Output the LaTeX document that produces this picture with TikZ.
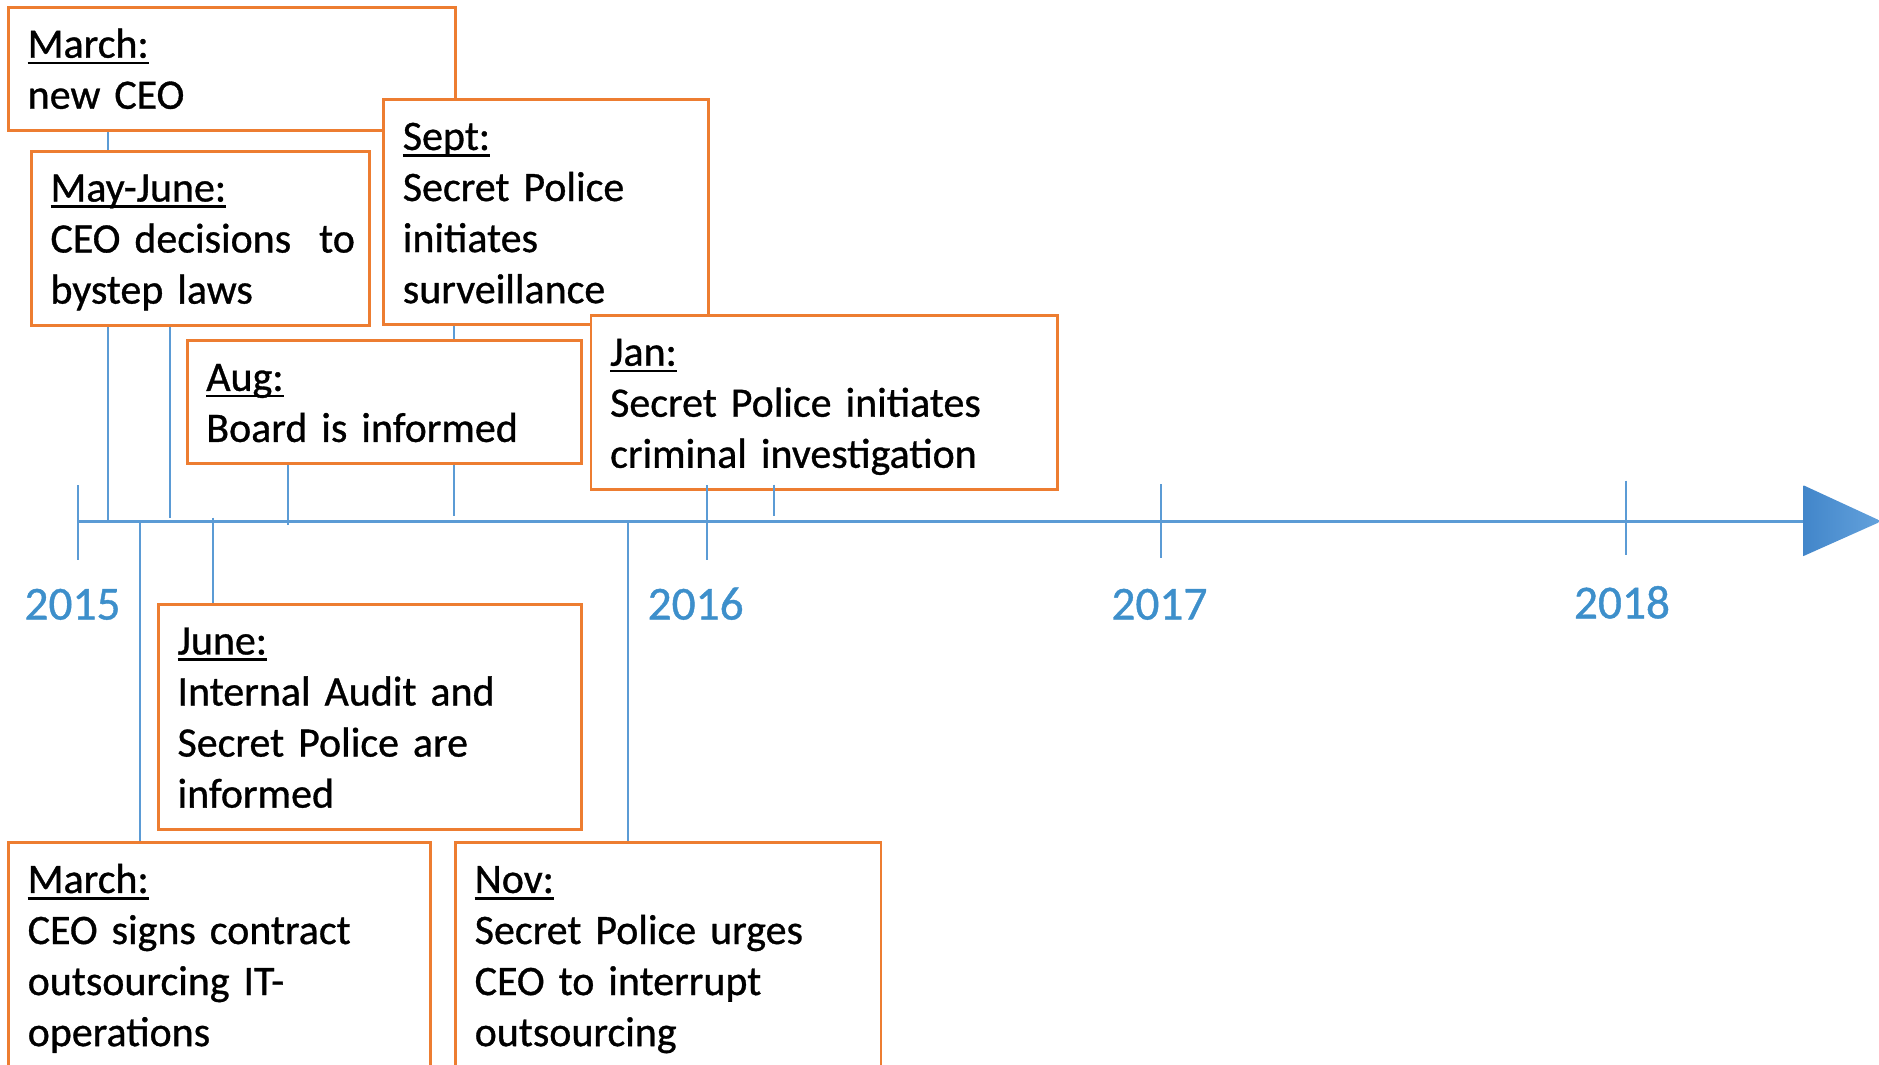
\documentclass[tikz,border=0pt]{standalone}
\usepackage{fontspec}
\usetikzlibrary{backgrounds}
\setmainfont{Carlito}[FakeBold=0.8,WordSpace=0.8]
\definecolor{evorange}{HTML}{ED7D31}
\definecolor{lineblue}{HTML}{5B9BD5}
\definecolor{yearblue}{HTML}{3D8FCB}
\definecolor{arrowdark}{HTML}{4286CA}
\definecolor{arrowlight}{HTML}{64A2DC}
\setlength\parindent{0pt}
\newcommand\evfont{\fontsize{35pt}{42.6pt}\selectfont}
\newcommand\yrfont{\fontsize{39.5pt}{46pt}\selectfont}
\newcommand\evtop{\rule{0pt}{34pt}}
\newcommand\evbot{\rule[-10pt]{0pt}{10pt}}
\newcommand\evbotlong{\rule[-40pt]{0pt}{40pt}}
\newcommand\hd[1]{\setbox0=\hbox{#1}\rlap{\rule[-5.5pt]{\wd0}{2.3pt}}\box0}
\begin{document}
\begin{tikzpicture}[x=1pt,y=-1pt,
  evt/.style={draw=evorange, line width=2.3pt, fill=white, inner xsep=16pt,
    inner ysep=8pt, align=left, anchor=north west, font=\evfont, text=black},
  conn/.style={draw=lineblue, line width=1.8pt},
  axisline/.style={draw=lineblue, line width=2.2pt},
  tickline/.style={draw=lineblue, line width=1.8pt},
  yearlbl/.style={anchor=base, font=\yrfont, text=yearblue, inner sep=0pt}]
\useasboundingbox (0,0) rectangle (1568,888);
\clip (0,0) rectangle (1568,888);
% points on the axis
\coordinate (c1) at (90,435);
\coordinate (c2) at (142,432);
\coordinate (c3) at (379,431);
\coordinate (c4) at (240,438);
\coordinate (c5) at (646,431);
\coordinate (c6) at (178,432);
\coordinate (c7) at (117,435);
\coordinate (c8) at (524,435);
\coordinate (axstart) at (65,435);
\coordinate (axend) at (1505,435);
\coordinate (tip) at (1570,435);
% event boxes
\node[evt, text width=341pt] (mA) at (6,5) {\evtop\hd{March:}\\new CEO\evbot};
\node[evt, text width=250pt] (mj) at (25,125) {\evtop\hd{May-June:}\\\mbox{CEO decisions\ \ to}\\bystep laws\evbot};
\node[evt, text width=239pt] (sp) at (319,82) {\evtop\hd{Sept:}\\Secret Police\\initiates\\surveillance\evbot};
\node[evt, text width=297pt] (au) at (155,283) {\evtop\hd{Aug:}\\Board is informed\evbot};
\node[evt, text width=357pt] (ja) at (492,262) {\evtop\hd{Jan:}\\\mbox{Secret Police initiates}\\\mbox{criminal investigation}\evbot};
\node[evt, text width=321pt] (ju) at (131,503) {\evtop\hd{June:}\\Internal Audit and\\Secret Police are\\informed\evbot};
\node[evt, text width=320pt] (mB) at (6,702) {\evtop\hd{March:}\\\mbox{CEO signs contract}\\outsourcing IT-\\operations\evbotlong};
\node[evt, text width=323pt] (nv) at (379,702) {\evtop\hd{Nov:}\\\mbox{Secret Police urges}\\CEO to interrupt\\outsourcing\evbotlong};
% connectors behind the boxes
\begin{pgfonlayer}{background}
\fill[white] (0,0) rectangle (1568,888);
\draw[conn] (mA.south -| c1) -- (c1);
\draw[conn] (mj.south -| c2) -- (c2);
\draw[conn] (sp.south -| c3) -- (c3);
\draw[conn] (au.south -| c4) -- (c4);
\draw[conn] (c6) -- (ju.north -| c6);
\draw[conn] (c7) -- (mB.north -| c7);
\draw[conn] (c8) -- (nv.north -| c8);
\end{pgfonlayer}
% axis, ticks, arrow, years
\draw[axisline] (axstart) -- (axend);
\draw[conn] ([yshift=5pt]ja.south -| c5) -- (c5);
\draw[tickline] (65,405) -- (65,467);
\draw[tickline] (590,405) -- (590,467);
\draw[tickline] (969,404) -- (969,466);
\draw[tickline] (1357,401) -- (1357,463);
\shade[left color=arrowdark, right color=arrowlight, shading angle=90]
  (axend |- 0,405) -- (tip) -- (axend |- 0,464) -- cycle;
\node[yearlbl] (y15) at (60.5,517) {2015};
\node[yearlbl] (y16) at (580.5,517) {2016};
\node[yearlbl] (y17) at (967.5,517) {2017};
\node[yearlbl] (y18) at (1353.5,516) {2018};
\end{tikzpicture}
\end{document}
